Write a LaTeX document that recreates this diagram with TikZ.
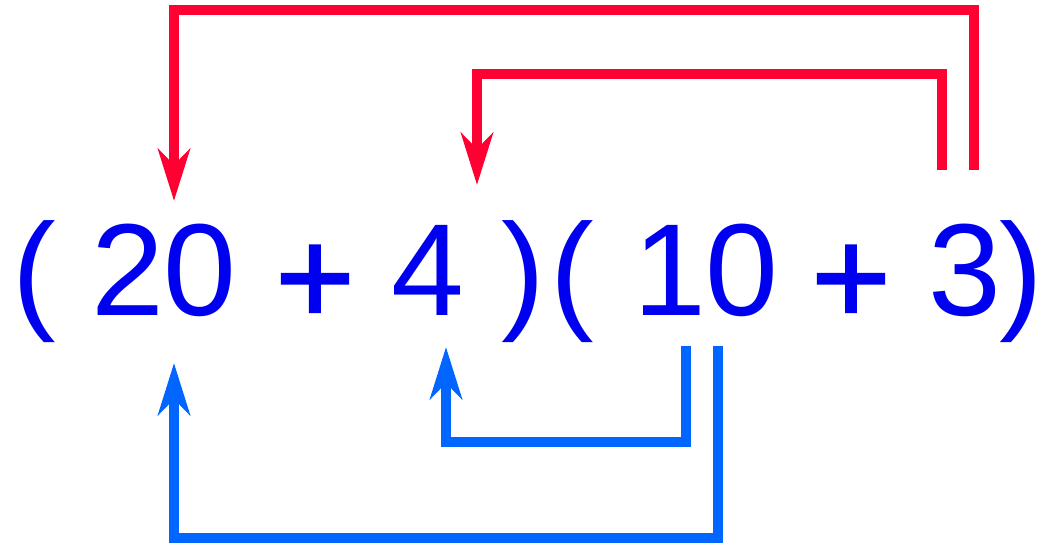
\documentclass[tikz,border=0pt]{standalone}
\usepackage{fontspec}
\setmainfont{Liberation Sans}
\newfontfamily\plusfont[FakeBold=1.6]{Liberation Sans}
\usetikzlibrary{arrows.meta}
\definecolor{linkred}{RGB}{255,0,51}
\definecolor{linkblue}{RGB}{0,102,255}
\definecolor{termblue}{RGB}{0,0,240}

\begin{document}
\begin{tikzpicture}[
    x=1pt, y=-1pt,
    term/.style={anchor=base, inner sep=0pt, text=termblue, font=\fontsize{131}{131}\selectfont},
    plussign/.style={term, font=\plusfont\fontsize{136}{136}\selectfont},
    redlink/.style={draw=linkred, line width=10pt, -{Stealth[length=52pt, width=32pt, inset=16pt]}},
    bluelink/.style={draw=linkblue, line width=10pt, -{Stealth[length=52pt, width=32pt, inset=16pt]}}
]
    \useasboundingbox (0,0) rectangle (1045,545);

    % First factor
    \node[term] (lpA) at (34,316) {(};
    \node[term] (t20) at (164,316) {20};
    \node[plussign] (plusA) at (315,324) {+};
    \node[term] (t4) at (428,316) {4};
    \node[term] (rpA) at (523,316) {)};
    % Second factor
    \node[term] (lpB) at (572,316) {(};
    \node[term] (t10) at (706,316) {10};
    \node[plussign] (plusB) at (851,324) {+};
    \node[term] (t3) at (965,316) {3};
    \node[term] (rpB) at (1021,316) {)};

    % Ends of the links
    \coordinate (from3out) at (974,170);
    \coordinate (from3in) at (942,170);
    \coordinate (to20top) at (174,201);
    \coordinate (to4top) at (477,185);
    \coordinate (from10out) at (718,346);
    \coordinate (from10in) at (686,346);
    \coordinate (to20bot) at (174,363);
    \coordinate (to4bot) at (446,347);

    % Red links over the top
    \draw[redlink] (from3out) |- (174,10) -- (to20top);
    \draw[redlink] (from3in) |- (477,74) -- (to4top);
    % Blue links underneath
    \draw[bluelink] (from10in) |- (446,442) -- (to4bot);
    \draw[bluelink] (from10out) |- (174,538) -- (to20bot);
\end{tikzpicture}
\end{document}
